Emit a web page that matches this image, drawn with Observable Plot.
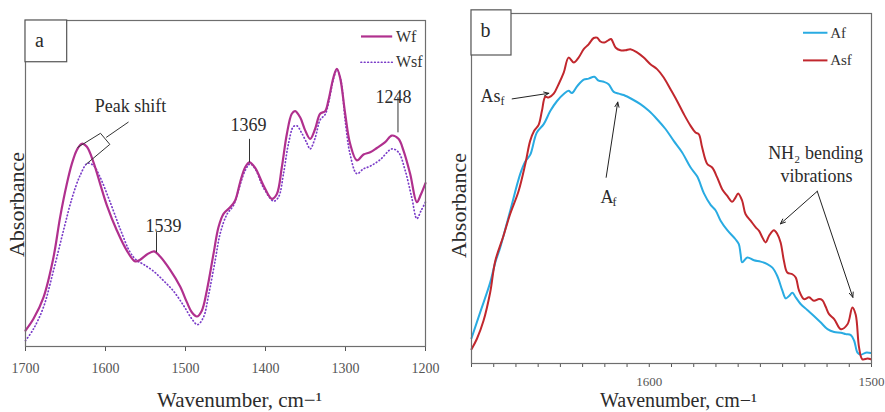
<!DOCTYPE html>
<html><head><meta charset="utf-8">
<script src="https://cdn.jsdelivr.net/npm/d3@7"></script>
<script src="https://cdn.jsdelivr.net/npm/@observablehq/plot@0.6"></script>
<style>
body{margin:0;background:#fff;}
#wrap{position:relative;width:885px;height:412px;overflow:hidden;}
#pa{position:absolute;left:0;top:0;}
#pb{position:absolute;left:440px;top:0;}
</style></head><body><div id="wrap"><div id="pa"></div><div id="pb"></div></div>
<script>
// ---------- Panel a data ----------
const wfX = [1700,1690,1677.5,1665,1656.7,1648.3,1642.1,1635.8,1629.6,1623.3,1615,1606.7,1598.3,1585.8,1573.3,1562.9,1556.7,1548.3,1539.2,1531.7,1519.2,1506.7,1498.3,1492.1,1485.8,1479.6,1473.3,1465,1458.8,1452.5,1444.2,1437.9,1431.7,1425.4,1420,1412.9,1402.5,1392.1,1385.8,1379.6,1373.3,1367.1,1362.9,1356.7,1350.4,1344.2,1337.9,1331.7,1325.4,1321.3,1315,1310.8,1306.7,1300.4,1294.2,1285.8,1277.5,1269.2,1260.8,1250.4,1242.1,1233.8,1227.5,1219.2,1210.8,1205.8,1200];
const wfY = [4.9,8.5,15.1,27.4,39.7,49.9,56.0,60.3,62.2,61.3,56.5,49.9,43.3,35.6,29.4,26.1,26.6,28.2,29.2,27.6,23.5,18.4,13.6,10.5,9.2,11.0,17.2,28.4,36.6,40.7,42.7,44.8,50.4,55.0,56.5,54.8,49.4,45.3,46.8,55.0,65.2,71.4,72.2,70.3,66.3,63.7,66.8,71.4,72.2,75.5,82.6,85.2,82.4,71.4,62.2,57.1,58.9,59.6,60.9,62.7,64.7,63.7,60.1,53.0,44.3,46.6,50.1];
const wsfX = [1700,1690,1677.5,1665,1652.5,1642.1,1631.7,1622.5,1615,1606.7,1594.2,1581.7,1569.2,1560.8,1552.5,1540,1527.5,1515,1502.5,1492.1,1485,1477.5,1471.3,1462.9,1456.7,1448.3,1440,1433.8,1425.4,1419.2,1412.9,1402.5,1390,1383.8,1377.5,1371.3,1365,1360.8,1354.6,1348.3,1344.2,1337.9,1331.7,1325.4,1321.3,1315,1310.8,1305.8,1300.4,1294.2,1285.8,1277.5,1269.2,1256.7,1242.1,1233.8,1225.4,1217.1,1210.8,1205.8,1200];
const wsfY = [1.8,5.4,12.1,23.3,35.6,45.3,52.5,56.2,55.5,51.9,44.3,36.1,28.9,26.4,25.2,23.1,20.2,17.0,12.6,8.5,6.7,9.0,15.6,26.4,34.6,40.5,43.3,47.9,54.0,56.0,54.5,48.7,44.6,45.8,53.0,62.2,67.5,67.7,65.4,62.4,60.6,64.0,69.5,71.2,74.6,82.1,84.9,81.6,69.3,58.9,53.0,54.5,55.3,57.3,60.6,59.6,54.0,45.6,39.2,41.5,44.3];
const ticksA = [1700,1600,1500,1400,1300,1200];

// Panel a annotations (data units)
const peakLabels = ["1539","1369","1248"];
const peakLabelX = [1527.5,1421.25,1240];
const peakLabelY = [36.8,68.0,76.5];
const peakLeaderX = [1536.25,1420,1234.4];
const peakLeaderTop = [35.1,63.7,76.5];
const peakLeaderBottom = [28.9,56.5,65.7];
const bracketX = [1634.6,1606.25,1594.6,1623.75];
const bracketY = [61.1,65.4,62.0,56.0];
const shiftLeaderX = [1598.75,1571.6];
const shiftLeaderY = [64.2,68.8];
const legendA = ["Wf","Wsf"];
const legendAY = [95.1,87.2];

// ---------- Panel b data ----------
const afX = [1680,1676.1,1671.6,1669.3,1667.1,1662.6,1658.1,1655.8,1653.6,1650.6,1647.5,1644.5,1641.5,1638.5,1636.3,1634.8,1632.5,1629.5,1627.3,1624.7,1622.8,1620.5,1618.3,1616.0,1613.7,1611.5,1607.7,1604.0,1600.2,1596.5,1592.7,1589.0,1585.2,1581.4,1578.4,1575.4,1572.4,1570.2,1567.9,1564.9,1561.2,1559.7,1558.9,1558.2,1555.9,1552.9,1549.9,1546.9,1544.6,1542.4,1540.1,1538.6,1537.1,1535.6,1534.1,1531.9,1528.9,1525.9,1522.8,1519.8,1516.8,1513.8,1511.6,1509.3,1507.8,1506.3,1504.8,1502.6,1500.3];
const afY = [7.2,14.6,23.1,28.9,33.1,43.6,54.1,57.7,59.6,66.0,68.4,72.2,75.0,77.0,77.9,77.3,79.2,81.1,81.4,81.9,80.8,80.5,79.8,77.6,77.1,76.7,75.5,74.1,72.2,69.8,67.0,63.6,60.3,56.0,53.4,48.6,45.3,43.8,40.8,38.1,35.5,34.1,31.2,28.9,30.3,29.5,29.1,28.4,27.4,25.0,20.8,18.6,19.3,20.2,18.9,17.0,15.3,13.6,11.7,9.8,9.0,8.8,8.4,8.1,6.5,3.1,2.5,3.1,3.0];
const asfX = [1680,1677.6,1674.6,1671.6,1669.3,1665.6,1662.6,1658.8,1655.8,1653.6,1651.8,1649.8,1648.3,1646.8,1645.3,1643.0,1640.8,1638.5,1636.3,1634.0,1631.8,1629.5,1627.3,1625.0,1623.5,1622.0,1620.2,1618.3,1617.2,1615.2,1613.0,1610.7,1608.5,1605.5,1602.5,1599.5,1596.5,1593.5,1590.5,1587.5,1584.4,1581.4,1579.2,1577.7,1576.2,1573.9,1571.7,1569.4,1567.2,1564.9,1562.7,1561.2,1560.0,1558.2,1556.7,1554.4,1552.1,1550.6,1549.1,1547.6,1546.1,1543.9,1542.4,1540.9,1539.4,1537.9,1535.6,1534.1,1532.6,1530.4,1528.1,1525.9,1523.6,1522.1,1520.6,1519.1,1516.8,1513.8,1510.8,1508.6,1507.1,1505.6,1504.1,1501.8,1500.3];
const asfY = [4.1,7.0,12.2,20.3,29.3,36.5,42.7,49.3,57.0,63.6,66.5,68.2,72.2,76.2,76.0,77.1,79.8,83.1,87.4,86.0,87.4,89.8,91.2,93.0,93.1,92.0,91.7,92.4,92.7,90.3,89.5,89.5,89.8,88.9,87.4,85.5,84.1,81.7,78.4,75.0,71.2,67.9,66.0,65.5,61.7,57.0,56.0,53.1,49.8,47.9,46.2,47.4,48.6,46.5,42.7,40.8,38.9,37.9,36.0,34.6,36.5,38.1,37.0,34.6,29.3,26.0,25.5,24.6,20.8,18.4,18.9,17.9,18.4,18.1,16.2,14.1,12.7,9.8,11.2,16.0,13.9,4.6,1.2,1.4,1.2];
const ticksB = [1680,1670,1660,1650,1640,1630,1620,1610,1600,1590,1580,1570,1560,1550,1540,1530,1520,1510,1500];
const labeledTicksB = [1600,1500];

// Panel b annotations (data units)
const arrowX1 = [1661.7,1619.4,1524.4,1524.4];
const arrowY1 = [75.6,53.2,49.2,49.2];
const arrowX2 = [1645.2,1614.2,1541.0,1508.4];
const arrowY2 = [77.2,74.7,39.9,18.9];
const legendB = ["Af","Asf"];
const legendBY = [94.5,86.6];

const FONT = "'Liberation Serif', 'DejaVu Serif', serif";
const TXT = "#2b2b2b";
const rows = (xs, ys) => xs.map((x, i) => ({x, y: ys[i]}));
const idx = (arr) => arr.map((_, i) => i);

// ---------- Panel a ----------
const plotA = Plot.plot({
  width: 440, height: 412,
  marginLeft: 25, marginRight: 15, marginTop: 20, marginBottom: 66,
  style: {fontFamily: FONT, background: "white", overflow: "visible"},
  x: {domain: [1700, 1200]},
  y: {domain: [0, 100], axis: null},
  marks: [
    Plot.axisX({ticks: ticksA, tickSize: 5, tickPadding: 12, fontSize: 14, color: "#555", label: null, tickFormat: d => String(d)}),
    Plot.line(rows(wsfX, wsfY), {x: "x", y: "y", curve: "catmull-rom", stroke: "#7a3cc8", strokeWidth: 1.7, strokeDasharray: "0.6 2.8", strokeLinecap: "round"}),
    Plot.line(rows(wfX, wfY), {x: "x", y: "y", curve: "catmull-rom", stroke: "#b0308e", strokeWidth: 2.2}),
    Plot.frame({stroke: "#6e6e6e", strokeWidth: 1.2}),
    Plot.rect([0], {x1: 1700, x2: 1647.9, y1: 87.2, y2: 100, fill: "white", stroke: "#555", strokeWidth: 1.2}),
    Plot.text(["a"], {x: 1682.5, y: 93.7, fontSize: 20, fill: TXT}),
    // legend
    Plot.ruleY([legendAY[0]], {x1: 1280, x2: 1241, stroke: "#b0308e", strokeWidth: 2.2}),
    Plot.ruleY([legendAY[1]], {x1: 1280, x2: 1241, stroke: "#7a3cc8", strokeWidth: 1.7, strokeDasharray: "0.6 2.8", strokeLinecap: "round"}),
    Plot.text(idx(legendA), {x: 1237, y: i => legendAY[i], text: i => legendA[i], textAnchor: "start", fontSize: 16, fill: "#333"}),
    // peak labels
    Plot.text(idx(peakLabels), {x: i => peakLabelX[i], y: i => peakLabelY[i], text: i => peakLabels[i], fontSize: 18, fill: TXT}),
    Plot.link(idx(peakLabels), {x1: i => peakLeaderX[i], x2: i => peakLeaderX[i], y1: i => peakLeaderTop[i], y2: i => peakLeaderBottom[i], stroke: "#333", strokeWidth: 1}),
    // peak shift bracket
    Plot.line(rows(bracketX, bracketY), {x: "x", y: "y", stroke: "#333", strokeWidth: 1}),
    Plot.line(rows(shiftLeaderX, shiftLeaderY), {x: "x", y: "y", stroke: "#333", strokeWidth: 1}),
    Plot.text(["Peak shift"], {x: 1568.75, y: 73.6, fontSize: 18, fill: TXT}),
    // axis titles
    Plot.text(["Wavenumber, cm\u2212\u00b9"], {frameAnchor: "bottom", textAnchor: "middle", lineAnchor: "middle", dx: 14, dy: 54, fontSize: 21, fill: TXT}),
    Plot.text(["Absorbance"], {frameAnchor: "left", textAnchor: "middle", lineAnchor: "middle", rotate: -90, dx: -9, dy: 21, fontSize: 22, fill: TXT})
  ]
});
document.getElementById("pa").appendChild(plotA);

// ---------- Panel b ----------
const plotB = Plot.plot({
  width: 445, height: 412,
  marginLeft: 31, marginRight: 14, marginTop: 13, marginBottom: 49,
  style: {fontFamily: FONT, background: "white", overflow: "visible"},
  x: {domain: [1680, 1500]},
  y: {domain: [0, 100], axis: null},
  marks: [
    Plot.axisX({ticks: ticksB, tickSize: 4, tickPadding: 9, fontSize: 13, color: "#555", label: null, tickFormat: d => labeledTicksB.includes(d) ? String(d) : ""}),
    Plot.line(rows(afX, afY), {x: "x", y: "y", curve: "catmull-rom", stroke: "#29abe2", strokeWidth: 2}),
    Plot.line(rows(asfX, asfY), {x: "x", y: "y", curve: "catmull-rom", stroke: "#c1272d", strokeWidth: 2}),
    Plot.frame({stroke: "#6e6e6e", strokeWidth: 1.2}),
    Plot.rect([0], {x1: 1680, x2: 1662, y1: 88.0, y2: 100.9, fill: "white", stroke: "#555", strokeWidth: 1.2}),
    Plot.text(["b"], {x: 1673.7, y: 95.1, fontSize: 20, fill: TXT}),
    // legend
    Plot.ruleY([legendBY[0]], {x1: 1530.6, x2: 1519.6, stroke: "#29abe2", strokeWidth: 2}),
    Plot.ruleY([legendBY[1]], {x1: 1530.6, x2: 1519.6, stroke: "#c1272d", strokeWidth: 2}),
    Plot.text(idx(legendB), {x: 1518.6, y: i => legendBY[i], text: i => legendB[i], textAnchor: "start", fontSize: 15, fill: "#333"}),
    // annotations
    Plot.arrow(idx(arrowX1), {x1: i => arrowX1[i], y1: i => arrowY1[i], x2: i => arrowX2[i], y2: i => arrowY2[i], stroke: "#222", strokeWidth: 1, headLength: 8, headAngle: 45}),
    Plot.text(["As"], {x: 1676.0, y: 76.3, textAnchor: "start", fontSize: 18, fill: TXT}),
    Plot.text(["f"], {x: 1667.0, y: 75.0, textAnchor: "start", fontSize: 12, fill: TXT}),
    Plot.text(["A"], {x: 1621.9, y: 47.5, textAnchor: "start", fontSize: 18, fill: TXT}),
    Plot.text(["f"], {x: 1616.6, y: 46.2, textAnchor: "start", fontSize: 12, fill: TXT}),
    Plot.text(["NH\u2082 bending"], {x: 1525.2, y: 60.1, fontSize: 18, fill: TXT}),
    Plot.text(["vibrations"], {x: 1524.7, y: 53.5, fontSize: 18, fill: TXT}),
    // axis titles
    Plot.text(["Wavenumber, cm\u2212\u00b9"], {frameAnchor: "bottom", textAnchor: "middle", lineAnchor: "middle", dx: 7, dy: 37, fontSize: 20, fill: TXT}),
    Plot.text(["Absorbance"], {frameAnchor: "left", textAnchor: "middle", lineAnchor: "middle", rotate: -90, dx: -13, dy: 17, fontSize: 22, fill: TXT})
  ]
});
document.getElementById("pb").appendChild(plotB);
</script>
</body></html>
